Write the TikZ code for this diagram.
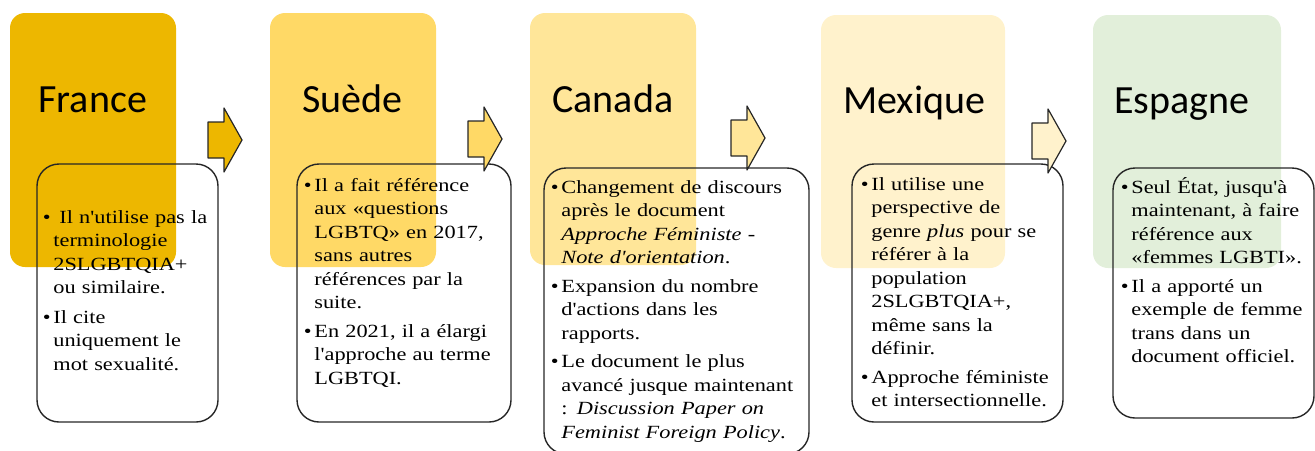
\documentclass[tikz,border=0pt]{standalone}
\usepackage{fontspec}
\setmainfont{Liberation Serif}[Ligatures=TeXOff,FakeStretch=1.2]
\newfontfamily\titrefont{Carlito}
\usepackage{tikz}
\usepackage{xcolor}
\definecolor{franceOr}{RGB}{237,183,0}
\definecolor{sueJaune}{RGB}{255,217,102}
\definecolor{canJaune}{RGB}{255,230,153}
\definecolor{mexCreme}{RGB}{255,242,204}
\definecolor{espVert}{RGB}{226,239,218}
\tikzset{
  every picture/.append style={line cap=round,line join=round},
  pays fond/.style={rounded corners=7.5pt},
  pays cadre/.style={draw=black!85,line width=0.7pt,rounded corners=11pt},
  pays titre/.style={font=\titrefont\fontsize{20}{24}\selectfont,anchor=base west,inner sep=0pt},
  pays texte/.style={font=\fontsize{9.3}{11.75}\selectfont,anchor=base west,inner sep=0pt,text width=150pt,align=left},
  pays fleche/.style={draw=black!85,line width=0.6pt}
}
\newcommand{\puce}{\leavevmode\llap{\textbullet\hspace{1.4pt}}}

\begin{document}
\begin{tikzpicture}[x=0.5pt,y=-0.5pt]
  \useasboundingbox (0,0) rectangle (1315,450);
  % fonds colores
  \fill[pays fond,franceOr] (10,13) rectangle (176,267);
  \fill[pays fond,sueJaune] (270,13) rectangle (436,267);
  \fill[pays fond,canJaune] (530,13) rectangle (696,265);
  \fill[pays fond,mexCreme] (821,15) rectangle (1005,268);
  \fill[pays fond,espVert] (1093,15) rectangle (1281,268);

  \node[pays titre] (titreFrance) at (38,112) {France};
  \node[pays titre] (titreSuede) at (302,112) {Suède};
  \node[pays titre] (titreCanada) at (552,112) {Canada};
  \node[pays titre] (titreMexique) at (843,113) {Mexique};
  \node[pays titre] (titreEspagne) at (1114,113) {Espagne};

  % cadres des textes
  \draw[pays cadre] (37,164) rectangle (218,422);
  \draw[pays cadre] (297,164) rectangle (511,422);
  \draw[pays cadre] (544,168) rectangle (809,454);
  \draw[pays cadre] (852,164) rectangle (1063,422);
  \draw[pays cadre] (1113,168) rectangle (1314,418);

  \node[pays texte] (texteFrance) at (53,223) {%
    \puce\hspace{3pt}Il n'utilise pas la\\ terminologie\\ 2SLGBTQIA+\\ ou similaire.\\[3pt]
    \puce Il cite\\ uniquement le\\ mot sexualité.};
  \node[pays texte] (texteSuede) at (314,191) {%
    \puce Il a fait référence\\ aux «questions\\ LGBTQ» en 2017,\\ sans autres\\ références par la\\ suite.\\[2.5pt]
    \puce En 2021, il a élargi\\ l'approche au terme\\ LGBTQI.};
  \node[pays texte] (texteCanada) at (561,193) {%
    \puce Changement de discours\\ après le document\\ \textit{Approche Féministe -}\\ \textit{Note d'orientation}.\\[2.5pt]
    \puce Expansion du nombre\\ d'actions dans les\\ rapports.\\[2.5pt]
    \puce Le document le plus\\ avancé jusque maintenant\\ : \textit{Discussion Paper on}\\ \textit{Feminist Foreign Policy}.};
  \node[pays texte] (texteMexique) at (871,190) {%
    \puce Il utilise une\\ perspective de\\ genre \textit{plus} pour se\\ référer à la\\ population\\ 2SLGBTQIA+,\\ même sans la\\ définir.\\[2.5pt]
    \puce Approche féministe\\ et intersectionnelle.};
  \node[pays texte] (texteEspagne) at (1131,193) {%
    \puce Seul État, jusqu'à\\ maintenant, à faire\\ référence aux\\ «femmes LGBTI».\\[2.5pt]
    \puce Il a apporté un\\ exemple de femme\\ trans dans un\\ document officiel.};

  % fleches entre les pays
  \foreach \x/\y/\c in {208/140/franceOr,468/139/sueJaune,731/138/canJaune,1032/141/mexCreme}
    \draw[pays fleche,fill=\c] (\x,\y-18) -- ++(16,0) -- ++(0,-14) -- ++(18,32)
      -- ++(-18,32) -- ++(0,-14) -- ++(-16,0) -- cycle;
\end{tikzpicture}
\end{document}
